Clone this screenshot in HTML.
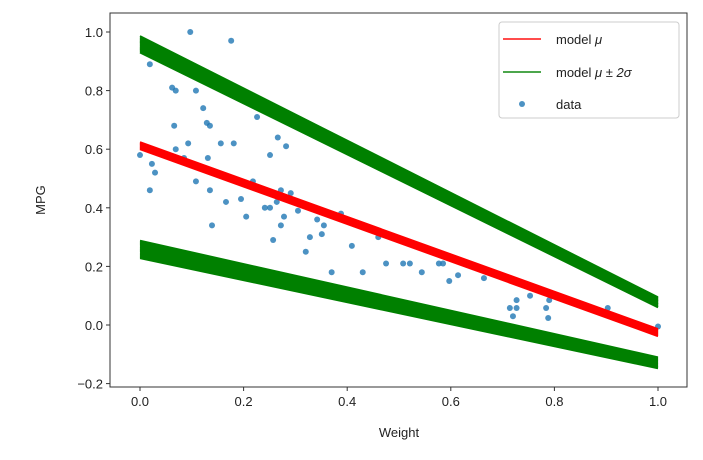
<!DOCTYPE html>
<html><head><meta charset="utf-8"><style>
body{margin:0;background:#fff;width:703px;height:455px;overflow:hidden}
svg{font-family:"Liberation Sans","DejaVu Sans",sans-serif}
</style></head><body>
<svg id="chart" width="703" height="455" viewBox="0 0 703 455">
<g id="marks"></g>
<g id="axes"></g>
</svg>
<script>
const xTicks=[0,0.2,0.4,0.6,0.8,1.0];
const xTickLabels=["0.0","0.2","0.4","0.6","0.8","1.0"];
const yTicks=[-0.2,0,0.2,0.4,0.6,0.8,1.0];
const yTickLabels=["\u22120.2","0.0","0.2","0.4","0.6","0.8","1.0"];
const muStart=[0.6,0.603,0.606,0.609,0.612,0.615,0.618,0.621,0.624];
const muEnd=[-0.038,-0.035,-0.032,-0.029,-0.026,-0.023,-0.02,-0.017,-0.014];
const upStart=[0.93,0.934,0.938,0.942,0.946,0.95,0.954,0.958,0.962,0.966,0.97,0.974,0.978,0.982,0.986];
const upEnd=[0.06,0.062,0.065,0.067,0.07,0.072,0.075,0.077,0.08,0.082,0.085,0.087,0.09,0.092,0.095];
const loStart=[0.228,0.232,0.236,0.24,0.244,0.248,0.252,0.256,0.26,0.264,0.268,0.272,0.276,0.28,0.284,0.288];
const loEnd=[-0.148,-0.145,-0.143,-0.14,-0.138,-0.135,-0.133,-0.13,-0.128,-0.125,-0.123,-0.12,-0.118,-0.115,-0.113,-0.11];
const dataX=[0.097,0.176,0.019,0.062,0.069,0.108,0.122,0.066,0.129,0.135,0.226,0.266,0.282,0.093,0.069,0.156,0.181,0.0,0.251,0.085,0.131,0.023,0.029,0.108,0.218,0.019,0.135,0.272,0.291,0.264,0.195,0.166,0.241,0.251,0.305,0.205,0.278,0.388,0.342,0.355,0.139,0.272,0.351,0.328,0.257,0.409,0.46,0.43,0.475,0.508,0.521,0.544,0.577,0.585,0.597,0.614,0.664,0.753,0.727,0.714,0.727,0.72,0.784,0.788,0.79,0.903,1.0,0.37,0.32];
const dataY=[1.0,0.97,0.89,0.81,0.80,0.80,0.74,0.68,0.69,0.68,0.71,0.64,0.61,0.62,0.60,0.62,0.62,0.58,0.58,0.57,0.57,0.55,0.52,0.49,0.49,0.46,0.46,0.46,0.45,0.42,0.43,0.42,0.40,0.40,0.39,0.37,0.37,0.38,0.36,0.34,0.34,0.34,0.31,0.30,0.29,0.27,0.30,0.18,0.21,0.21,0.21,0.18,0.21,0.21,0.15,0.17,0.16,0.10,0.085,0.058,0.058,0.03,0.058,0.024,0.085,0.058,-0.005,0.18,0.25];

const NS="http://www.w3.org/2000/svg";
const L=110,R=687,T=13,B=387;
const sx=v=>140+518*v;
const sy=v=>325-293*v;
function mk(tag,attrs,parent){const e=document.createElementNS(NS,tag);for(const k in attrs)e.setAttribute(k,attrs[k]);parent.appendChild(e);return e;}
const marks=document.getElementById('marks'),axes=document.getElementById('axes');

upStart.forEach((s,i)=>{const l=mk('line',{x1:sx(0),y1:sy(s),x2:sx(1),y2:sy(upEnd[i]),stroke:'#008000','stroke-width':1.8},marks);

});
loStart.forEach((s,i)=>{const l=mk('line',{x1:sx(0),y1:sy(s),x2:sx(1),y2:sy(loEnd[i]),stroke:'#008000','stroke-width':1.8},marks);

});
dataX.forEach((x,i)=>{const c=mk('circle',{cx:sx(x),cy:sy(dataY[i]),r:3,fill:'#1f77b4','fill-opacity':0.8},marks);

});
muStart.forEach((s,i)=>{const l=mk('line',{x1:sx(0),y1:sy(s),x2:sx(1),y2:sy(muEnd[i]),stroke:'#ff0000','stroke-width':2},marks);

});

const frame=mk('rect',{x:L,y:T,width:R-L,height:B-T,fill:'none',stroke:'#333','stroke-width':1},axes);


xTicks.forEach((v,i)=>{mk('line',{x1:sx(v),x2:sx(v),y1:B,y2:B+4,stroke:'#333'},axes);
const t=mk('text',{x:sx(v),y:B+19,'text-anchor':'middle','font-size':13,fill:'#222'},axes);t.textContent=xTickLabels[i];

});
yTicks.forEach((v,i)=>{mk('line',{x1:L-4,x2:L,y1:sy(v),y2:sy(v),stroke:'#333'},axes);
const t=mk('text',{x:L-7,y:sy(v)+5,'text-anchor':'end','font-size':13,fill:'#222'},axes);t.textContent=yTickLabels[i];

});
const xt=mk('text',{x:sx(0.5),y:437,'text-anchor':'middle','font-size':13,fill:'#222'},axes);xt.textContent='Weight';


const yt=mk('text',{x:0,y:0,'text-anchor':'middle','font-size':13,fill:'#222',transform:'translate(45,200) rotate(-90)'},axes);yt.textContent='MPG';



const lg=mk('g',{},axes);


mk('rect',{x:499,y:22,width:180,height:96,rx:3,fill:'#fff','fill-opacity':0.85,stroke:'#ccc'},lg);
mk('line',{x1:503,x2:541,y1:39,y2:39,stroke:'#ff0000','stroke-width':2,'stroke-opacity':0.7},lg);
mk('line',{x1:503,x2:541,y1:72,y2:72,stroke:'#008000','stroke-width':2,'stroke-opacity':0.7},lg);
mk('circle',{cx:522,cy:104,r:3,fill:'#1f77b4','fill-opacity':0.8},lg);
const labels=[["model ",'\u03bc',44],["model ",'\u03bc \u00b1 2\u03c3',77],["data",'',109]];
labels.forEach(([a,b,y])=>{const t=mk('text',{x:556,y:y,'font-size':13,fill:'#222'},lg);t.textContent=a;


if(b){const s=mk('tspan',{'font-style':'italic'},t);s.textContent=b;}});
</script>
</body></html>
